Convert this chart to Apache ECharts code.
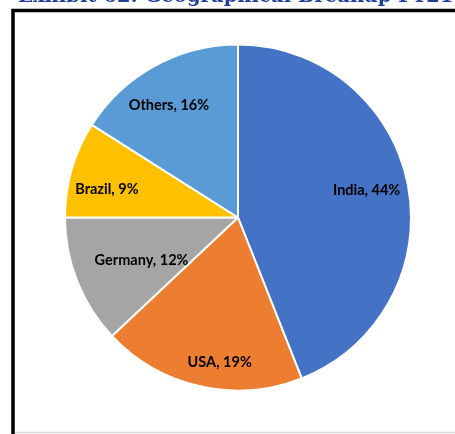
<!DOCTYPE html>
<html>
<head>
<meta charset="utf-8">
<script src="https://cdn.jsdelivr.net/npm/echarts@6/dist/echarts.min.js"></script>
<style>
  html, body { margin: 0; padding: 0; background: #fff; }
  #chart { width: 455px; height: 434px; }
</style>
</head>
<body>
<div id="chart"></div>
<script>
// Geographical breakup of revenue, FY21
const regions = ['India', 'USA', 'Germany', 'Brazil', 'Others'];
const shares = [44, 19, 12, 9, 16];
const sliceColors = ['#4472C4', '#ED7D31', '#A5A5A5', '#FFC000', '#5B9BD5'];

// label placement: fraction of radius and angular nudge (degrees) per slice
const labelRadius = [0.76, 0.845, 0.61, 0.775, 0.76];
const labelNudge = [-1.2, -5.4, -2.3, -4.1, -2.9];

const CX = 238, CY = 217.5, R = 173;
const total = shares.reduce((a, b) => a + b, 0);
const midAngles = [];
let acc = 0;
shares.forEach(v => { midAngles.push((acc + v / 2) / total * 360); acc += v; });

const chart = echarts.init(document.getElementById('chart'), null, { renderer: 'canvas' });

chart.setOption({
  animation: false,
  backgroundColor: '#ffffff',
  graphic: [
    {
      type: 'text', left: 18, top: -13.5, z: 10,
      style: {
        text: 'Exhibit 62: Geographical Breakup FY21',
        fill: '#1F3F99',
        font: 'bold 19.6px "DejaVu Serif"'
      }
    },
    {
      type: 'polyline', z: 20,
      shape: { points: [[13, 440], [13, 10.5], [470, 10.5]] },
      style: { stroke: '#000', lineWidth: 3.5, fill: null }
    },
    {
      type: 'line', z: 5,
      shape: { x1: 15, y1: 432.5, x2: 455, y2: 432.5 },
      style: { stroke: '#D9D9D9', lineWidth: 1.5 }
    }
  ],
  series: [{
    type: 'pie',
    center: [CX, CY],
    radius: [0, R],
    startAngle: 90,
    clockwise: true,
    avoidLabelOverlap: false,
    itemStyle: { borderColor: '#ffffff', borderWidth: 2 },
    label: {
      show: true,
      position: 'inside',
      formatter: p => p.name + ', ' + p.value + '%',
      color: '#000',
      fontFamily: 'Lato',
      fontWeight: 'bold',
      fontSize: 14.5
    },
    labelLine: { show: false },
    labelLayout: p => {
      const i = p.dataIndex;
      const a = (midAngles[i] + labelNudge[i]) * Math.PI / 180;
      const rr = labelRadius[i] * R;
      return {
        x: CX + rr * Math.sin(a),
        y: CY - rr * Math.cos(a),
        align: 'center',
        verticalAlign: 'middle'
      };
    },
    data: regions.map((n, i) => ({ name: n, value: shares[i], itemStyle: { color: sliceColors[i] } }))
  }]
});
</script>
</body>
</html>
